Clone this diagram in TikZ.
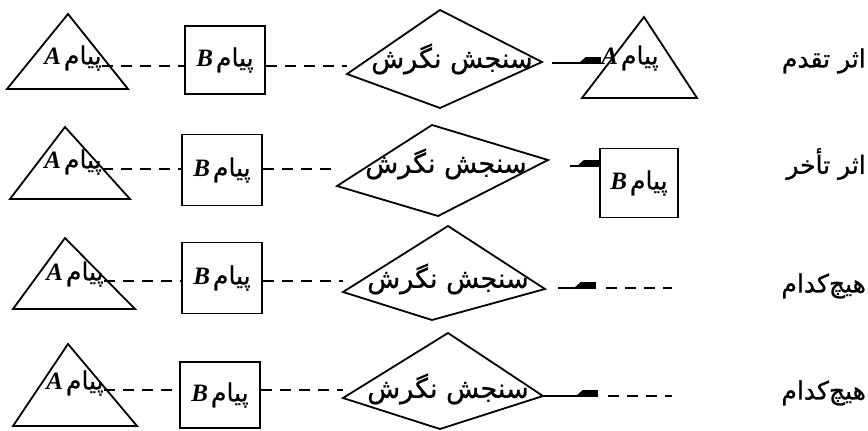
\documentclass[tikz,border=0pt]{standalone}
\usepackage{fontspec}
\setmainfont{Liberation Serif}
\newfontfamily\farsifont[Script=Arabic, FakeBold=0.8]{DejaVu Sans}
\TeXXeTstate=1
\usetikzlibrary{arrows.meta,calc}

\tikzset{
  edge/.style={line width=1.8pt, line join=miter},
  dashlink/.style={line width=1.7pt, dash pattern=on 11pt off 8pt},
  solidlink/.style={line width=1.7pt},
  harp/.style={-{Triangle[harpoon,reversed,length=7pt,width=12pt,sep=0pt]Rectangle[harpoon,length=15pt,width=12pt]}},
  msg/.style={inner sep=0pt},
  msgbox/.style={draw, line width=1.8pt, inner sep=0pt, minimum width=80pt, minimum height=68pt},
  evaltext/.style={inner sep=0pt, font=\farsifont\fontsize{27}{27}\selectfont},
  rowlabel/.style={inner sep=0pt, anchor=east, font=\farsifont\fontsize{25}{25}\selectfont}
}
% message label: bold italic letter followed by the Persian word
\newcommand{\msglabel}[1]{{\fontsize{25}{25}\selectfont\bfseries\itshape #1}\hspace{3pt}{\farsifont\fontsize{25}{25}\selectfont\beginR پیام\endR}}

\begin{document}
\begin{tikzpicture}[x=1pt,y=-1pt]
\useasboundingbox (0,0) rectangle (868,431);

% ---------- row 1: primacy ----------
\coordinate (y1) at (0,66);
\draw[edge] (7,89) -- (68,14) -- (128,89) -- cycle;
\node[msg] (ma1) at (73,58) {\msglabel{A}};
\node[msgbox] (mb1) at (225,60) {\msglabel{B}};
\draw[edge] (347,74) coordinate (dl1) -- (440,10) -- (542,62) coordinate (dr1) -- (440,108) -- cycle;
\node[evaltext] (ev1) at (452,59) {\beginR سنجش نگرش\endR};
\draw[edge] (582,98) -- (644,17) -- (697,98) -- cycle;
\coordinate (oa1) at (601,63);
\node[msg] (mo1) at (630,58) {\msglabel{A}};
\node[rowlabel] (l1) at (866,61) {\beginR اثر تقدم\endR};
\draw[dashlink] (ma1.east |- y1) -- (mb1.west |- y1);
\draw[dashlink] (mb1.east |- y1) -- (dl1 |- y1);
\draw[solidlink, harp] ($(dr1)+(10,1)$) -- (oa1);

% ---------- row 2: recency ----------
\coordinate (y2) at (0,169);
\draw[edge] (10,199) -- (65,127) -- (130,199) -- cycle;
\node[msg] (ma2) at (73,162) {\msglabel{A}};
\node[msgbox, minimum height=71pt] (mb2) at (222,170) {\msglabel{B}};
\draw[edge] (337,186) coordinate (dl2) -- (432,125) -- (548,160) coordinate (dr2) -- (438,216) -- cycle;
\node[evaltext] (ev2) at (446,164) {\beginR سنجش نگرش\endR};
\node[msgbox, minimum width=78pt, minimum height=69pt] (ob2) at (639,183) {\msglabel{B}};
\coordinate (os2) at (570,166);
\node[rowlabel] (l2) at (866,164) {\beginR اثر تأخر\endR};
\draw[dashlink] (ma2.east |- y2) -- (mb2.west |- y2);
\draw[dashlink] (mb2.east |- y2) -- (dl2 |- y2);
\draw[solidlink, harp] (os2) -- (ob2.west |- os2);

% ---------- row 3: neither ----------
\coordinate (y3) at (0,281);
\draw[edge] (13,309) -- (65,238) -- (135,309) -- cycle;
\node[msg] (ma3) at (75,274) {\msglabel{A}};
\node[msgbox, minimum height=71pt] (mb3) at (222,278) {\msglabel{B}};
\draw[edge] (343,292) coordinate (dl3) -- (448,226) -- (545,289) coordinate (dr3) -- (432,320) -- cycle;
\node[evaltext] (ev3) at (448,279) {\beginR سنجش نگرش\endR};
\coordinate (as3) at (558,288);
\coordinate (ae3) at (596,288);
\coordinate (ds3) at (606,288);
\coordinate (de3) at (672,288);
\node[rowlabel] (l3) at (866,286) {\beginR هیچ‌کدام\endR};
\draw[dashlink] (ma3.east |- y3) -- (mb3.west |- y3);
\draw[dashlink] (mb3.east |- y3) -- (dl3 |- y3);
\draw[solidlink, harp] (as3) -- (ae3);
\draw[dashlink] (ds3) -- (de3);

% ---------- row 4: neither ----------
\coordinate (y4) at (0,390);
\draw[edge] (13,426) -- (68,344) -- (137,426) -- cycle;
\node[msg] (ma4) at (75,383) {\msglabel{A}};
\node[msgbox, minimum height=66pt] (mb4) at (220,395) {\msglabel{B}};
\draw[edge] (343,398) coordinate (dl4) -- (448,333) -- (543,396) coordinate (dr4) -- (440,429) -- cycle;
\node[evaltext] (ev4) at (448,389) {\beginR سنجش نگرش\endR};
\coordinate (ae4) at (598,396);
\coordinate (ds4) at (608,396);
\coordinate (de4) at (672,396);
\node[rowlabel] (l4) at (866,393) {\beginR هیچ‌کدام\endR};
\draw[dashlink] (ma4.east |- y4) -- (mb4.west |- y4);
\draw[dashlink] (mb4.east |- y4) -- (dl4 |- y4);
\draw[solidlink, harp] (dr4 |- ae4) -- (ae4);
\draw[dashlink] (ds4) -- (de4);
\end{tikzpicture}
\end{document}
